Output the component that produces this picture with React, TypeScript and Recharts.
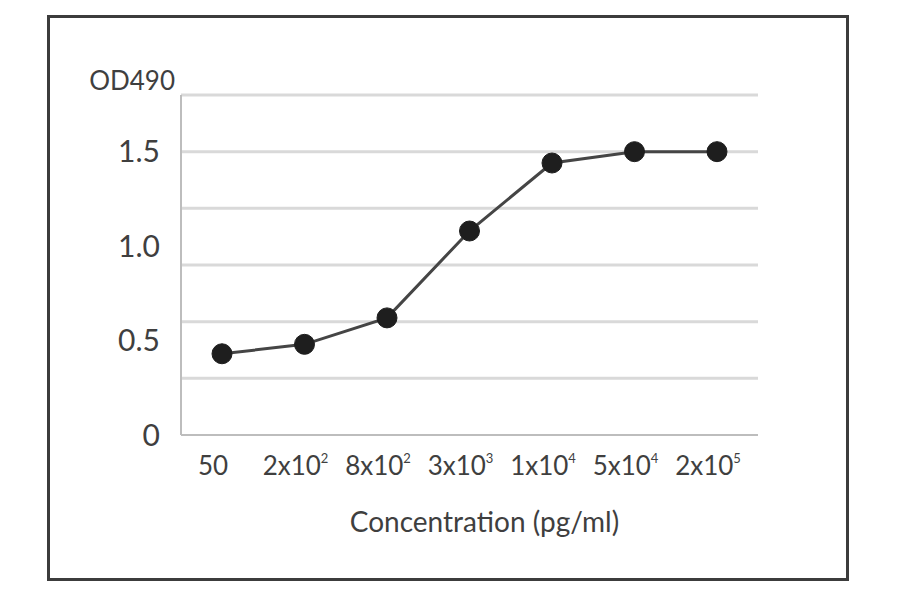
import { LineChart, Line, XAxis, YAxis, CartesianGrid } from "recharts";

// concentration steps, "^" marks the exponent
const concentrations = ["50", "2x10^2", "8x10^2", "3x10^3", "1x10^4", "5x10^4", "2x10^5"];
const od490Values = [0.43, 0.48, 0.62, 1.08, 1.44, 1.5, 1.5];
const yTickValues = [0, 0.5, 1.0, 1.5];
const gridValues = [0.3, 0.6, 0.9, 1.2, 1.5, 1.8];

const FONT = "Lato, 'Open Sans', sans-serif";
const TEXT_COLOR = "#3f3f3f";

const data = concentrations.map((c, i) => ({ conc: c, od: od490Values[i] }));

function ConcentrationTick({ x, y, payload }: any) {
  const [base, exp] = String(payload.value).split("^");
  return (
    <text
      x={x}
      y={y}
      dx={-9}
      dy={40}
      textAnchor="middle"
      fontSize={26}
      fontFamily={FONT}
      fill={TEXT_COLOR}
    >
      {base}
      {exp && (
        <tspan dy={-12} fontSize={13}>
          {exp}
        </tspan>
      )}
    </text>
  );
}

export default function App() {
  return (
    <div
      style={{
        position: "relative",
        width: 900,
        height: 594,
        margin: -8,
        background: "#ffffff",
      }}
    >
      <div
        style={{
          position: "absolute",
          left: 47,
          top: 15,
          width: 796,
          height: 560,
          border: "3px solid #3c3c3c",
        }}
      />
      <div style={{ position: "absolute", left: 0, top: 0 }}>
        <LineChart
          width={900}
          height={594}
          data={data}
          margin={{ top: 95, right: 142, bottom: 59, left: 60 }}
        >
          <CartesianGrid
            vertical={false}
            horizontalValues={gridValues}
            stroke="#d9d9d9"
            strokeWidth={3}
          />
          <XAxis
            dataKey="conc"
            interval={0}
            padding={{ left: 41, right: 41 }}
            tick={<ConcentrationTick />}
            tickLine={false}
            tickSize={0}
            tickMargin={0}
            axisLine={{ stroke: "#bdbdbd", strokeWidth: 2 }}
            height={100}
            label={{
              content: (props: any) => {
                const vb = props.viewBox || { x: 181, y: 435, width: 577 };
                return (
                  <text
                    x={vb.x + vb.width / 2 + 15}
                    y={vb.y + 97}
                    textAnchor="middle"
                    fontSize={28}
                    fontFamily={FONT}
                    fill={TEXT_COLOR}
                  >
                    Concentration (pg/ml)
                  </text>
                );
              },
            }}
          />
          <YAxis
            domain={[0, 1.8]}
            ticks={yTickValues}
            interval={0}
            width={121}
            tickLine={false}
            tickSize={0}
            tickMargin={21}
            tickFormatter={(v: number) => (v === 0 ? "0" : v.toFixed(1))}
            tick={{ fontSize: 30, fill: TEXT_COLOR, fontFamily: FONT }}
            axisLine={{ stroke: "#bdbdbd", strokeWidth: 2 }}
            label={{
              content: (props: any) => {
                const vb = props.viewBox || { x: 60, y: 95, width: 121 };
                return (
                  <text
                    x={vb.x + vb.width - 6}
                    y={vb.y - 5}
                    textAnchor="end"
                    fontSize={26}
                    fontFamily={FONT}
                    fill={TEXT_COLOR}
                  >
                    OD490
                  </text>
                );
              },
            }}
          />
          <Line
            type="linear"
            dataKey="od"
            stroke="#454545"
            strokeWidth={3}
            dot={{ r: 10, fill: "#1e1e1e", stroke: "#1e1e1e", strokeWidth: 1 }}
            activeDot={false}
            isAnimationActive={false}
          />
        </LineChart>
      </div>
    </div>
  );
}
